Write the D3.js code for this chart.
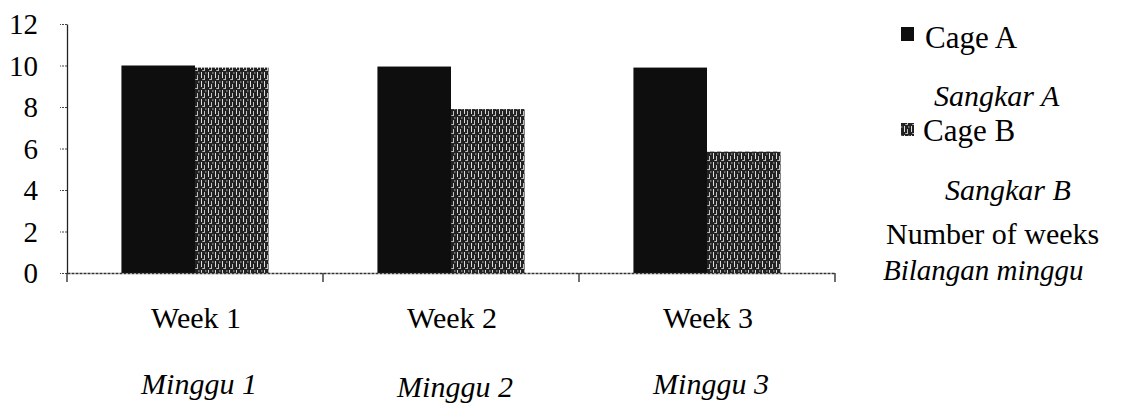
<!DOCTYPE html>
<html><head><meta charset="utf-8"><script src="https://cdn.jsdelivr.net/npm/d3@7"></script></head>
<body style="margin:0">
<script>
// Datos
weeks   = ['Week 1', 'Week 2', 'Week 3']
minggu  = ['Minggu 1', 'Minggu 2', 'Minggu 3']
series  = ['Cage A', 'Cage B']
cageA   = [10, 9.95, 9.9]
cageB   = [9.9, 7.9, 5.85]
yTicks  = [0, 2, 4, 6, 8, 10, 12]

fuente = '"Liberation Serif"'

svg = d3.select('body').append('svg').attr('width', 1125).attr('height', 403)

// patron punteado para Cage B (textura del escaneo)
defs = svg.append('defs')
pat = defs.append('pattern')
          .attr('id', 'tramaB')
          .attr('patternUnits', 'userSpaceOnUse')
          .attr('width', 7)
          .attr('height', 9)
pat.append('rect').attr('width', 7).attr('height', 9).attr('fill', '#222')
pat.append('rect').attr('x', 1).attr('y', 0).attr('width', 0.9).attr('height', 6).attr('fill', '#f2f2f2')
pat.append('rect').attr('x', 4).attr('y', 3).attr('width', 0.8).attr('height', 5).attr('fill', '#e8e8e8')
pat.append('rect').attr('x', 5.6).attr('y', 0).attr('width', 0.6).attr('height', 2).attr('fill', '#dddddd')
pat.append('rect').attr('x', 2.5).attr('y', 7).attr('width', 1.2).attr('height', 1).attr('fill', '#ffffff')

// escaladores
x0 = d3.scaleBand().domain(weeks).range([67, 835]).padding(0)
x1 = d3.scaleBand().domain(series).range([0, x0.bandwidth()])
       .paddingInner(0).paddingOuter(0.74)
y  = d3.scaleLinear().domain([0, 12]).range([273, 24])

colorFill = { 'Cage A': '#0e0e0e', 'Cage B': 'url(#tramaB)' }

tabla = weeks.map((w, i) => ({ week: w, valores: [
  { serie: 'Cage A', v: cageA[i] },
  { serie: 'Cage B', v: cageB[i] }
]}))

// barras
grupos = svg.selectAll('g.grupo')
            .data(tabla)
            .join('g')
            .attr('class', 'grupo')
            .attr('transform', d => `translate(${x0(d.week)},0)`)

grupos.selectAll('rect')
      .data(d => d.valores)
      .join('rect')
      .attr('x', d => x1(d.serie))
      .attr('y', d => y(d.v))
      .attr('width', x1.bandwidth())
      .attr('height', d => y(0) - y(d.v))
      .attr('fill', d => colorFill[d.serie])

// eje Y: linea y marcas con el eje de d3, etiquetas aparte
yAxis = d3.axisLeft(y)
          .tickValues(yTicks)
          .tickSize(7)
          .tickSizeOuter(0)
          .tickFormat('')
gy = svg.append('g')
        .attr('transform', `translate(${x0.range()[0]},0)`)
        .call(yAxis)
gy.select('.domain').attr('stroke', '#222').attr('stroke-width', 1.3)
gy.selectAll('.tick line').attr('stroke', '#444').attr('stroke-width', 1.2)
  .attr('stroke-dasharray', '2,1')

yTicks.forEach(t => {
  svg.append('text')
     .attr('x', 38).attr('y', y(t) + 10)
     .attr('text-anchor', 'end')
     .attr('font-size', '29px')
     .attr('font-family', fuente)
     .text(t)
})

// eje X (linea y marcas de separacion de categorias)
xAxis = d3.axisBottom(x0).tickSize(0).tickFormat('')
gx = svg.append('g')
        .attr('transform', `translate(0,${y(0)})`)
        .call(xAxis)
gx.select('.domain').attr('stroke', '#333').attr('stroke-width', 1.3)
  .attr('stroke-dasharray', '3,1')

bordes = weeks.map(w => x0(w)).concat([x0.range()[1]])
gx.selectAll('line.borde')
  .data(bordes)
  .join('line')
  .attr('class', 'borde')
  .attr('x1', d => d).attr('x2', d => d)
  .attr('y1', 0).attr('y2', 9)
  .attr('stroke', '#222')
  .attr('stroke-width', 1.3)

// etiquetas de categoria
weeks.forEach((w, i) => {
  svg.append('text')
     .attr('x', x0(w) + x0.bandwidth() / 2 + 1)
     .attr('y', 328)
     .attr('text-anchor', 'middle')
     .attr('font-size', '30px')
     .attr('font-family', fuente)
     .text(w)
  svg.append('text')
     .attr('x', x0(w) + x0.bandwidth() / 2 + 4)
     .attr('y', i == 1 ? 397 : 394)
     .attr('text-anchor', 'middle')
     .attr('font-size', '30px')
     .attr('font-style', 'italic')
     .attr('font-family', fuente)
     .text(minggu[i])
})

// leyenda
function textoLeyenda(txt, x, y, italica, tam) {
  t = svg.append('text')
    .attr('x', x).attr('y', y)
    .attr('font-size', tam)
    .attr('font-family', fuente)
    .text(txt)
  if (italica) t.attr('font-style', 'italic')
}

svg.append('rect')
  .attr('x', 901).attr('y', 27)
  .attr('width', 13).attr('height', 14)
  .attr('fill', colorFill['Cage A'])
textoLeyenda(series[0], 925, 48, false, '31px')
textoLeyenda('Sangkar A', 934, 106, true, '30px')

svg.append('rect')
  .attr('x', 901).attr('y', 123)
  .attr('width', 13).attr('height', 13)
  .attr('fill', colorFill['Cage B'])
textoLeyenda(series[1], 923, 141, false, '31px')
textoLeyenda('Sangkar B', 945, 200, true, '30px')

textoLeyenda('Number of weeks', 886, 244, false, '30px')
textoLeyenda('Bilangan minggu', 883, 280, true, '29px')
</script></body></html>
